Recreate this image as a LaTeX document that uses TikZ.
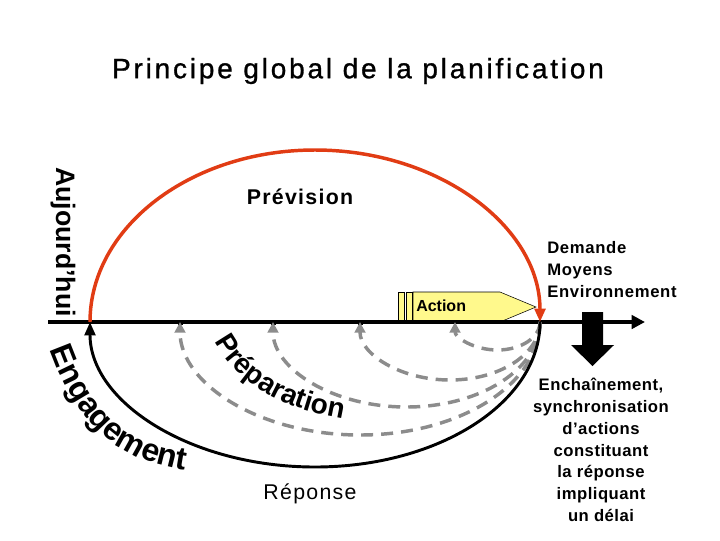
\documentclass[tikz,border=0pt]{standalone}
\usepackage{fontspec}
\setmainfont{Liberation Sans}
\usetikzlibrary{arrows.meta,decorations.text}
\begin{document}
\begin{tikzpicture}[x=0.75pt,y=-0.75pt,
  dsh/.style={draw=gray!90,line width=2.6pt,dash pattern=on 9pt off 6pt,-{Triangle[length=8pt,width=8pt]}},
  yel/.style={fill=yellow!45,draw=black,line width=0.4pt}]
\useasboundingbox (0,0) rectangle (720,540);
\node[font=\fontsize{21}{24}\selectfont\addfontfeature{LetterSpace=10,FakeBold=1}] (title) at (358,71) {Principe global de la planification};
% action shapes
\node[yel,minimum width=4.5pt,minimum height=22pt,inner sep=0] (b1) at (401,307) {};
\node[yel,minimum width=4.5pt,minimum height=22pt,inner sep=0] (b2) at (409,307) {};
\filldraw[yel] (413,292) -- (500,292) -- (536,307) -- (500,322) -- (413,322) -- cycle;
\node[font=\bfseries\fontsize{12}{14}\selectfont, anchor=west,inner sep=0] (act) at (416,306) {Action};
% timeline
\coordinate (L) at (48,322); \coordinate (R) at (645,322);
\draw[line width=2.6pt,-{Triangle[length=10pt,width=10pt]}] (L) -- (R);
\foreach \x/\n in {90/t0,180/t1,273/t2,360/t3,455/t4,540/t5}
  {\coordinate (\n) at (\x,322);}
\foreach \n in {t1,t2,t3} {\fill (\n) +(-2.5,-2.5) rectangle +(2.5,3);}
% dashed arcs
\draw[dsh] (t5) arc[start angle=0,end angle=180,x radius=42.5,y radius=28];
\draw[dsh] (t5) arc[start angle=0,end angle=180,x radius=90,y radius=58];
\draw[dsh] (t5) arc[start angle=0,end angle=180,x radius=133.5,y radius=85];
\draw[dsh] (t5) arc[start angle=0,end angle=180,x radius=180,y radius=113];
% red arc
\draw[draw={rgb,255:red,225;green,60;blue,20},line width=2.6pt,-{Triangle[length=10pt,width=8pt]}] (t0) arc[start angle=180,end angle=360,x radius=225,y radius=172];
% black arc
\draw[line width=2.2pt,-{Triangle[length=10pt,width=8pt]}] (t5) arc[start angle=0,end angle=180,x radius=225,y radius=145];
% down arrow
\fill (582,312) -- (603,312) -- (603,345) -- (614,345) -- (592.5,366) -- (571,345) -- (582,345) -- cycle;
% texts
\node[font=\bfseries\fontsize{16}{18}\selectfont\addfontfeature{LetterSpace=6}] (prev) at (300,197) {Prévision};
\node[font=\fontsize{16}{18}\selectfont\addfontfeature{LetterSpace=6}] (rep) at (310,494) {Réponse};
\node[align=left,font=\bfseries\fontsize{12.5}{16.5}\selectfont\addfontfeature{LetterSpace=4},anchor=west,inner sep=0] (dme) at (547,270) {Demande\\Moyens\\Environnement};
\node[align=center,font=\bfseries\fontsize{12.5}{16.3}\selectfont\addfontfeature{LetterSpace=3},inner sep=0] (ench) at (601,450) {Enchaînement,\\synchronisation\\d’actions\\constituant\\la réponse\\impliquant\\un délai};
\node[rotate=-90,font=\bfseries\fontsize{20}{20}\selectfont] (auj) at (63,242) {Aujourd'hui};
\path[decorate,decoration={text along path,text={|\bfseries\fontsize{24}{24}\selectfont|Engagement},text align=center}]
  (50,350) .. controls (75,420) and (115,460) .. (185,470);
\path[decorate,decoration={text along path,text={|\bfseries\fontsize{21}{21}\selectfont|Préparation},text align=center}]
  (212,335) .. controls (235,385) and (285,410) .. (350,420);
\end{tikzpicture}
\end{document}
